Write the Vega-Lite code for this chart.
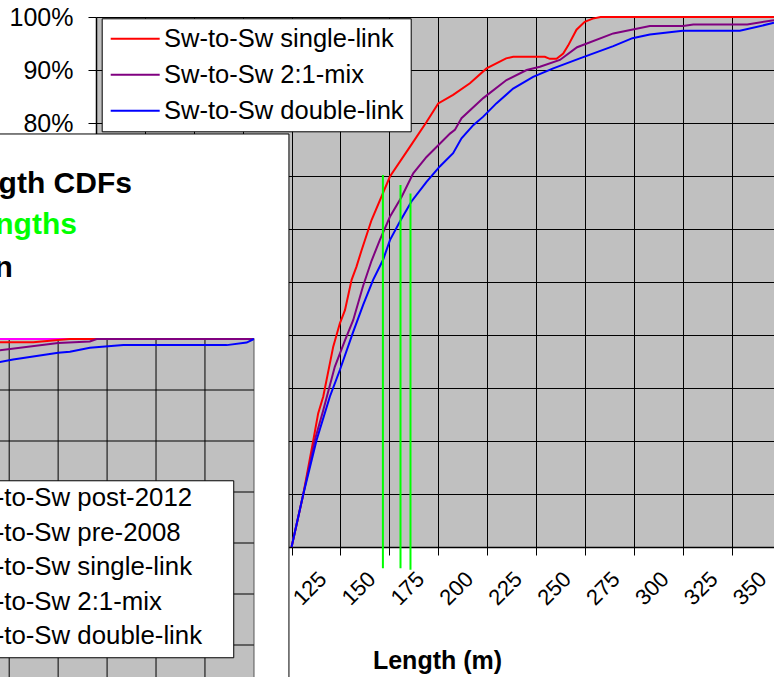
{
  "$schema": "https://vega.github.io/schema/vega-lite/v6.json",
  "width": 678,
  "height": 530,
  "autosize": {"type": "none"},
  "padding": {"left": 96, "top": 17, "right": 0, "bottom": 130},
  "background": "#FFFFFF",
  "config": {
    "font": "Liberation Sans",
    "view": {"fill": "#C0C0C0", "stroke": null},
    "axis": {"labelColor": "#000000", "titleColor": "#000000", "tickColor": "#000000", "domainColor": "#000000", "gridColor": "#000000", "gridOpacity": 1, "gridWidth": 1, "tickSize": 8, "domainWidth": 1.5, "tickWidth": 1},
    "legend": {"labelColor": "#000000"}
  },
  "datasets": {
    "curves": [
      {"series": "Sw-to-Sw single-link", "len": 100, "pct": 0},
      {"series": "Sw-to-Sw single-link", "len": 105.9, "pct": 9.8},
      {"series": "Sw-to-Sw single-link", "len": 111, "pct": 19.9},
      {"series": "Sw-to-Sw single-link", "len": 113.6, "pct": 25.2},
      {"series": "Sw-to-Sw single-link", "len": 116.2, "pct": 28.4},
      {"series": "Sw-to-Sw single-link", "len": 121.3, "pct": 37.8},
      {"series": "Sw-to-Sw single-link", "len": 124.7, "pct": 42.2},
      {"series": "Sw-to-Sw single-link", "len": 127.3, "pct": 44.7},
      {"series": "Sw-to-Sw single-link", "len": 130.7, "pct": 50.4},
      {"series": "Sw-to-Sw single-link", "len": 133.2, "pct": 52.9},
      {"series": "Sw-to-Sw single-link", "len": 135.8, "pct": 56},
      {"series": "Sw-to-Sw single-link", "len": 140.9, "pct": 61.7},
      {"series": "Sw-to-Sw single-link", "len": 150.3, "pct": 69.9},
      {"series": "Sw-to-Sw single-link", "len": 160.5, "pct": 75.5},
      {"series": "Sw-to-Sw single-link", "len": 169, "pct": 80.2},
      {"series": "Sw-to-Sw single-link", "len": 175, "pct": 83.7},
      {"series": "Sw-to-Sw single-link", "len": 182.6, "pct": 85.3},
      {"series": "Sw-to-Sw single-link", "len": 191.2, "pct": 87.5},
      {"series": "Sw-to-Sw single-link", "len": 199.7, "pct": 90.3},
      {"series": "Sw-to-Sw single-link", "len": 209.7, "pct": 92.2},
      {"series": "Sw-to-Sw single-link", "len": 213.3, "pct": 92.5},
      {"series": "Sw-to-Sw single-link", "len": 229.5, "pct": 92.5},
      {"series": "Sw-to-Sw single-link", "len": 232, "pct": 92.1},
      {"series": "Sw-to-Sw single-link", "len": 235.5, "pct": 92.1},
      {"series": "Sw-to-Sw single-link", "len": 238.9, "pct": 93.1},
      {"series": "Sw-to-Sw single-link", "len": 241.4, "pct": 94.6},
      {"series": "Sw-to-Sw single-link", "len": 245.7, "pct": 97.6},
      {"series": "Sw-to-Sw single-link", "len": 249.9, "pct": 99.1},
      {"series": "Sw-to-Sw single-link", "len": 254, "pct": 99.7},
      {"series": "Sw-to-Sw single-link", "len": 258, "pct": 100},
      {"series": "Sw-to-Sw single-link", "len": 346.7, "pct": 100},
      {"series": "Sw-to-Sw 2:1-mix", "len": 100, "pct": 0},
      {"series": "Sw-to-Sw 2:1-mix", "len": 105.9, "pct": 9.8},
      {"series": "Sw-to-Sw 2:1-mix", "len": 111.9, "pct": 20.2},
      {"series": "Sw-to-Sw 2:1-mix", "len": 116.2, "pct": 25.8},
      {"series": "Sw-to-Sw 2:1-mix", "len": 122.1, "pct": 34},
      {"series": "Sw-to-Sw 2:1-mix", "len": 127.3, "pct": 39},
      {"series": "Sw-to-Sw 2:1-mix", "len": 131.5, "pct": 42.8},
      {"series": "Sw-to-Sw 2:1-mix", "len": 136.6, "pct": 49.3},
      {"series": "Sw-to-Sw 2:1-mix", "len": 140.9, "pct": 54.0},
      {"series": "Sw-to-Sw 2:1-mix", "len": 145.1, "pct": 57.9},
      {"series": "Sw-to-Sw 2:1-mix", "len": 150.3, "pct": 62.3},
      {"series": "Sw-to-Sw 2:1-mix", "len": 156.3, "pct": 66.1},
      {"series": "Sw-to-Sw 2:1-mix", "len": 162.2, "pct": 70.5},
      {"series": "Sw-to-Sw 2:1-mix", "len": 169, "pct": 73.6},
      {"series": "Sw-to-Sw 2:1-mix", "len": 175, "pct": 75.8},
      {"series": "Sw-to-Sw 2:1-mix", "len": 181, "pct": 78},
      {"series": "Sw-to-Sw 2:1-mix", "len": 183.5, "pct": 78.7},
      {"series": "Sw-to-Sw 2:1-mix", "len": 186.9, "pct": 80.9},
      {"series": "Sw-to-Sw 2:1-mix", "len": 198, "pct": 84.7},
      {"series": "Sw-to-Sw 2:1-mix", "len": 209.9, "pct": 88.1},
      {"series": "Sw-to-Sw 2:1-mix", "len": 220.2, "pct": 90},
      {"series": "Sw-to-Sw 2:1-mix", "len": 227, "pct": 90.6},
      {"series": "Sw-to-Sw 2:1-mix", "len": 237.2, "pct": 91.9},
      {"series": "Sw-to-Sw 2:1-mix", "len": 246, "pct": 94.3},
      {"series": "Sw-to-Sw 2:1-mix", "len": 264.5, "pct": 96.9},
      {"series": "Sw-to-Sw 2:1-mix", "len": 283.2, "pct": 98.3},
      {"series": "Sw-to-Sw 2:1-mix", "len": 300.2, "pct": 98.3},
      {"series": "Sw-to-Sw 2:1-mix", "len": 305.4, "pct": 98.6},
      {"series": "Sw-to-Sw 2:1-mix", "len": 333, "pct": 98.6},
      {"series": "Sw-to-Sw 2:1-mix", "len": 346.7, "pct": 99.4},
      {"series": "Sw-to-Sw double-link", "len": 100, "pct": 0},
      {"series": "Sw-to-Sw double-link", "len": 105.9, "pct": 9.8},
      {"series": "Sw-to-Sw double-link", "len": 112.8, "pct": 20.2},
      {"series": "Sw-to-Sw double-link", "len": 119.6, "pct": 28.4},
      {"series": "Sw-to-Sw double-link", "len": 124.7, "pct": 33.4},
      {"series": "Sw-to-Sw double-link", "len": 131.5, "pct": 40.6},
      {"series": "Sw-to-Sw double-link", "len": 136.6, "pct": 45.7},
      {"series": "Sw-to-Sw double-link", "len": 141.7, "pct": 50.4},
      {"series": "Sw-to-Sw double-link", "len": 146.8, "pct": 54.2},
      {"series": "Sw-to-Sw double-link", "len": 150.3, "pct": 57.9},
      {"series": "Sw-to-Sw double-link", "len": 155.4, "pct": 61.4},
      {"series": "Sw-to-Sw double-link", "len": 161.3, "pct": 65.2},
      {"series": "Sw-to-Sw double-link", "len": 169, "pct": 68.9},
      {"series": "Sw-to-Sw double-link", "len": 175.8, "pct": 71.8},
      {"series": "Sw-to-Sw double-link", "len": 182.6, "pct": 74.3},
      {"series": "Sw-to-Sw double-link", "len": 186.9, "pct": 77.1},
      {"series": "Sw-to-Sw double-link", "len": 192.9, "pct": 79.6},
      {"series": "Sw-to-Sw double-link", "len": 198, "pct": 81.2},
      {"series": "Sw-to-Sw double-link", "len": 204.7, "pct": 83.7},
      {"series": "Sw-to-Sw double-link", "len": 213.3, "pct": 86.5},
      {"series": "Sw-to-Sw double-link", "len": 223.5, "pct": 88.7},
      {"series": "Sw-to-Sw double-link", "len": 233.8, "pct": 90.3},
      {"series": "Sw-to-Sw double-link", "len": 247.4, "pct": 92.2},
      {"series": "Sw-to-Sw double-link", "len": 264.5, "pct": 94.5},
      {"series": "Sw-to-Sw double-link", "len": 274.3, "pct": 96},
      {"series": "Sw-to-Sw double-link", "len": 283.2, "pct": 96.7},
      {"series": "Sw-to-Sw double-link", "len": 300, "pct": 97.4},
      {"series": "Sw-to-Sw double-link", "len": 329.2, "pct": 97.4},
      {"series": "Sw-to-Sw double-link", "len": 346.7, "pct": 98.9}
    ],
    "greens": [
      {"len": 146.7, "pct": 70.2, "pct2": -4.0},
      {"len": 155.7, "pct": 68.3, "pct2": -4.0},
      {"len": 160.8, "pct": 66.7, "pct2": -4.3}
    ],
    "inset": [
      {"s2": "Sw-to-Sw pre-2008", "ix": 240, "ip": 100},
      {"s2": "Sw-to-Sw pre-2008", "ix": 400, "ip": 100},
      {"s2": "Sw-to-Sw post-2012", "ix": 240, "ip": 100},
      {"s2": "Sw-to-Sw post-2012", "ix": 400, "ip": 100},
      {"s2": "Sw-to-Sw single-link", "ix": 262, "ip": 99.1},
      {"s2": "Sw-to-Sw single-link", "ix": 270.2, "ip": 99.35},
      {"s2": "Sw-to-Sw single-link", "ix": 287.3, "ip": 99.35},
      {"s2": "Sw-to-Sw single-link", "ix": 300, "ip": 99.8},
      {"s2": "Sw-to-Sw single-link", "ix": 306, "ip": 100},
      {"s2": "Sw-to-Sw single-link", "ix": 400, "ip": 100},
      {"s2": "Sw-to-Sw 2:1-mix", "ix": 262, "ip": 97.3},
      {"s2": "Sw-to-Sw 2:1-mix", "ix": 270.2, "ip": 97.8},
      {"s2": "Sw-to-Sw 2:1-mix", "ix": 300, "ip": 99.2},
      {"s2": "Sw-to-Sw 2:1-mix", "ix": 316.2, "ip": 99.5},
      {"s2": "Sw-to-Sw 2:1-mix", "ix": 319.7, "ip": 100},
      {"s2": "Sw-to-Sw 2:1-mix", "ix": 400, "ip": 100},
      {"s2": "Sw-to-Sw double-link", "ix": 262, "ip": 94.8},
      {"s2": "Sw-to-Sw double-link", "ix": 270.2, "ip": 95.5},
      {"s2": "Sw-to-Sw double-link", "ix": 277, "ip": 96.0},
      {"s2": "Sw-to-Sw double-link", "ix": 300, "ip": 97.3},
      {"s2": "Sw-to-Sw double-link", "ix": 306, "ip": 97.5},
      {"s2": "Sw-to-Sw double-link", "ix": 316.2, "ip": 98.3},
      {"s2": "Sw-to-Sw double-link", "ix": 333.3, "ip": 98.8},
      {"s2": "Sw-to-Sw double-link", "ix": 386.1, "ip": 98.8},
      {"s2": "Sw-to-Sw double-link", "ix": 396.3, "ip": 99.3},
      {"s2": "Sw-to-Sw double-link", "ix": 400, "ip": 100}
    ],
    "one": [{"k": "a"}],
    "ivgrid": [{"ix": 200}, {"ix": 225}, {"ix": 250}, {"ix": 275}, {"ix": 300}, {"ix": 325}, {"ix": 350}, {"ix": 375}],
    "ihgrid": [{"ip": 90}, {"ip": 80}, {"ip": 70}, {"ip": 60}, {"ip": 50}, {"ip": 40}, {"ip": 30}]
  },
  "layer": [
    {
      "encoding": {
        "x": {"field": "len", "type": "quantitative", "scale": {"domain": [0, 350], "range": [0, 684.5], "nice": false, "zero": false},
          "axis": {"values": [25, 50, 75, 100, 125, 150, 175, 200, 225, 250, 275, 300, 325, 350], "labelAngle": -45, "labelAlign": "center", "labelBaseline": "middle", "labelOffset": -31, "labelPadding": 33, "labelFontSize": 22, "labelFlush": false, "labelOverlap": false, "labelBound": false, "title": "Length (m)", "titleFontSize": 25, "titleFontWeight": "bold", "titleX": 341, "titleY": 121, "titleBaseline": "alphabetic", "titleAlign": "center"}},
        "y": {"field": "pct", "type": "quantitative", "scale": {"domain": [0, 100], "nice": false, "zero": false},
          "axis": {"values": [0, 10, 20, 30, 40, 50, 60, 70, 80, 90, 100], "labelExpr": "datum.value + '%'", "labelFontSize": 25, "labelPadding": 15, "title": null}}
      },
      "layer": [
        {"data": {"name": "curves"}, "mark": {"type": "line", "strokeWidth": 2},
          "encoding": {"color": {"field": "series", "type": "nominal",
            "scale": {"domain": ["Sw-to-Sw single-link", "Sw-to-Sw 2:1-mix", "Sw-to-Sw double-link"], "range": ["#FF0000", "#800080", "#0000FF"]},
            "legend": {"title": null, "orient": "none", "legendX": 5.7, "legendY": 1.3, "padding": 7, "rowPadding": 9, "labelFontSize": 25.5, "labelOffset": 15.4, "labelLimit": 0, "symbolType": "M-2,0H2", "symbolSize": 600, "symbolOffset": 13, "symbolStrokeWidth": 2, "fillColor": "#FFFFFF", "strokeColor": "#000000"}}}},
        {"data": {"name": "greens"}, "mark": {"type": "rule", "color": "#00FF00", "strokeWidth": 2},
          "encoding": {"y2": {"field": "pct2"}}}
      ]
    },
    {
      "layer": [
        {"data": {"name": "one"}, "mark": {"type": "rect", "fill": "#FFFFFF", "stroke": "#000000", "strokeWidth": 1},
          "encoding": {
            "x": {"datum": 150, "type": "quantitative", "scale": {"domain": [275, 400], "range": [-86.8, 157.9], "nice": false, "zero": false}, "axis": null},
            "x2": {"datum": 417.9},
            "y": {"datum": -60, "type": "quantitative", "scale": {"domain": [0, 100], "range": [832, 322], "nice": false, "zero": false}, "axis": null},
            "y2": {"datum": 140.2}}},
        {"data": {"name": "one"}, "mark": {"type": "rect", "fill": "#C0C0C0", "stroke": "#808080", "strokeWidth": 1.5},
          "encoding": {
            "x": {"datum": 150, "type": "quantitative", "axis": null},
            "x2": {"datum": 400},
            "y": {"datum": -60, "type": "quantitative", "axis": null},
            "y2": {"datum": 100}}},
        {"data": {"name": "ivgrid"},
          "mark": {"type": "rule", "stroke": "#000000", "strokeWidth": 1},
          "encoding": {
            "x": {"field": "ix", "type": "quantitative", "axis": null},
            "y": {"datum": -60, "type": "quantitative", "axis": null},
            "y2": {"datum": 100}}},
        {"data": {"name": "ihgrid"},
          "mark": {"type": "rule", "stroke": "#000000", "strokeWidth": 1},
          "encoding": {
            "x": {"datum": 150, "type": "quantitative", "axis": null},
            "x2": {"datum": 400},
            "y": {"field": "ip", "type": "quantitative", "axis": null}}},
        {"data": {"name": "inset"}, "mark": {"type": "line", "strokeWidth": 2},
          "encoding": {
            "x": {"field": "ix", "type": "quantitative", "axis": null},
            "y": {"field": "ip", "type": "quantitative", "axis": null},
            "stroke": {"field": "s2", "type": "nominal",
            "scale": {"domain": ["Sw-to-Sw post-2012", "Sw-to-Sw pre-2008", "Sw-to-Sw single-link", "Sw-to-Sw 2:1-mix", "Sw-to-Sw double-link"], "range": ["#FF00FF", "#00FFFF", "#FF0000", "#800080", "#0000FF"]},
            "legend": {"title": null, "orient": "none", "legendX": -197.4, "legendY": 462.5, "padding": 5, "rowPadding": 7.5, "labelFontSize": 25.8, "labelOffset": 16.2, "labelLimit": 0, "symbolType": "M-2,0H2", "symbolSize": 600, "symbolOffset": 13, "symbolStrokeWidth": 2}}}},
        {"data": {"name": "one"}, "mark": {"type": "rect", "fill": "#FFFFFF", "stroke": "#000000", "strokeWidth": 1},
          "encoding": {
            "x": {"datum": 150, "type": "quantitative", "axis": null},
            "x2": {"datum": 389.7},
            "y": {"datum": 37.5, "type": "quantitative", "axis": null},
            "y2": {"datum": 72.2}}},
        {"data": {"name": "one"}, "mark": {"type": "text", "text": "gth CDFs", "align": "right", "baseline": "alphabetic", "fontSize": 30, "fontWeight": "bold", "fill": "#000000"},
          "encoding": {"x": {"datum": 337.7, "type": "quantitative", "axis": null}, "y": {"datum": 128.6, "type": "quantitative", "axis": null}}},
        {"data": {"name": "one"}, "mark": {"type": "text", "text": "ngths", "align": "right", "baseline": "alphabetic", "fontSize": 30, "fontWeight": "bold", "fill": "#00FF00"},
          "encoding": {"x": {"datum": 309.6, "type": "quantitative", "axis": null}, "y": {"datum": 120.6, "type": "quantitative", "axis": null}}},
        {"data": {"name": "one"}, "mark": {"type": "text", "text": "n", "align": "right", "baseline": "alphabetic", "fontSize": 30, "fontWeight": "bold", "fill": "#000000"},
          "encoding": {"x": {"datum": 276.9, "type": "quantitative", "axis": null}, "y": {"datum": 112.2, "type": "quantitative", "axis": null}}}
      ]
    }
  ],
  "resolve": {"scale": {"x": "independent", "y": "independent"}}
}
